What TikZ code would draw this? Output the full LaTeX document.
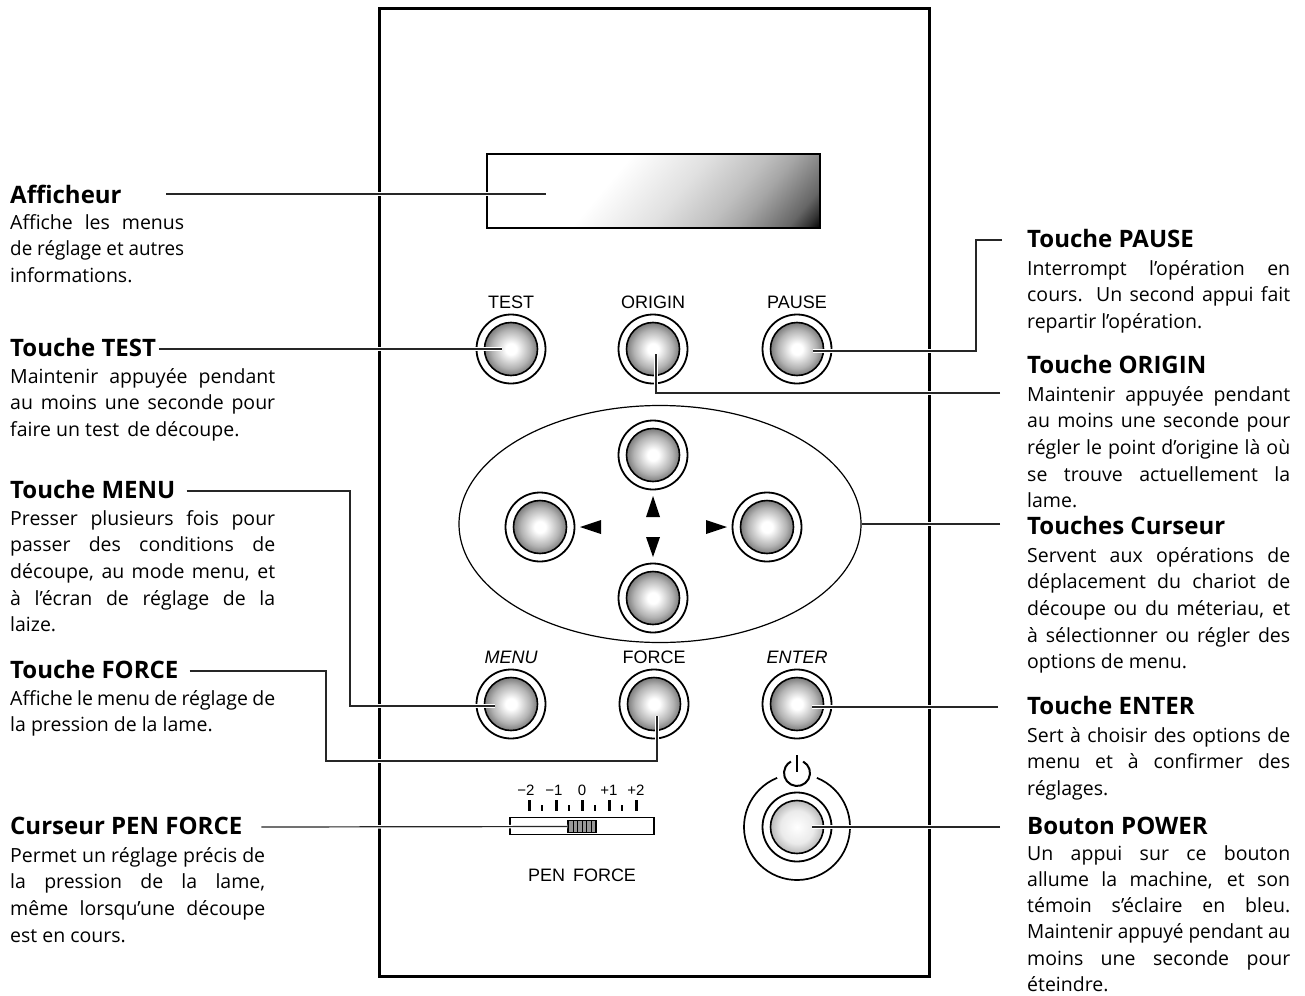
\documentclass[tikz,border=0pt]{standalone}
\usepackage{fontspec}
\usepackage{graphicx}
\setmainfont[Ligatures={NoCommon}]{Open Sans}
\newfontfamily\panelfont{Liberation Sans}
\usetikzlibrary{positioning, shapes.geometric}
\hyphenpenalty=10000
\exhyphenpenalty=10000
\tolerance=9999
\hbadness=10000
\hfuzz=20pt
\newcommand{\tightline}[1]{\resizebox{\linewidth}{\height}{#1}}

\pgfdeclareradialshading{btnshade}{\pgfpoint{0bp}{0bp}}{color(0bp)=(white); color(4bp)=(white); color(14bp)=(black!30); color(20bp)=(black!55); color(25bp)=(black!80); color(50bp)=(black!80)}
\pgfdeclareradialshading{pwrshade}{\pgfpoint{0bp}{0bp}}{color(0bp)=(white); color(12bp)=(black!8); color(20bp)=(black!30); color(25bp)=(black!62); color(50bp)=(black!62)}
\pgfdeclareverticalshading{lcdshade}{100bp}{color(0bp)=(white); color(45bp)=(white); color(52.6bp)=(black!12); color(58.1bp)=(black!25); color(60.9bp)=(black!35); color(62.9bp)=(black!45); color(65.8bp)=(black!60); color(67.6bp)=(black!80); color(69bp)=(black); color(100bp)=(black)}

\tikzset{
  ringbtn/.style={circle, draw, line width=1.8pt, inner sep=0pt, minimum size=69pt,
    path picture={\shadedraw[shading=#1, line width=1.6pt] (path picture bounding box.center) circle (26.5pt);}},
  ringbtn/.default=btnshade,
  leader/.style={draw=black!85, line width=1.2pt, preaction={draw=white, line width=3.6pt, line cap=square}},
  heading/.style={inner sep=0pt, anchor=base west, text height=14pt, text depth=0pt, font=\fontsize{24}{26}\selectfont\bfseries},
  desc/.style={inner sep=0pt, anchor=north west, text width=#1, align=justify,
    font=\fontsize{19.5}{26.6}\selectfont, execute at begin node={\rule{0pt}{16pt}}},
  paneltext/.style={inner sep=0pt, font=\panelfont\fontsize{18}{20}\selectfont},
  scaletext/.style={inner sep=0pt, anchor=base, font=\panelfont\fontsize{15}{16}\selectfont},
}

\begin{document}
\begin{tikzpicture}[x=1pt, y=-1pt]
  \useasboundingbox (0,0) rectangle (1305,995);
  % front panel and display
  \node[draw, line width=3pt, minimum width=550pt, minimum height=967pt, inner sep=0pt] (panel) at (654,492.5) {};
  \node[draw, line width=1.6pt, minimum width=333pt, minimum height=74pt, inner sep=0pt,
    path picture={\shade[shading=lcdshade, shading angle=-130] (path picture bounding box.center) ++(-200,-200) rectangle ++(400,400);}] (lcd) at (653.5,191) {};
  % cursor pad
  \node[draw, line width=1.2pt, ellipse, minimum width=402pt, minimum height=237pt, inner sep=0pt] (pad) at (660,524) {};
  % buttons
  \node[ringbtn] (btest) at (511,349) {};
  \node[ringbtn] (borigin) at (653,349) {};
  \node[ringbtn] (bpause) at (797,349) {};
  \node[ringbtn] (bup) at (653,455) {};
  \node[ringbtn] (bleft) at (540,527) {};
  \node[ringbtn] (bright) at (767,527) {};
  \node[ringbtn] (bdown) at (653,598) {};
  \node[ringbtn] (bmenu) at (511,704) {};
  \node[ringbtn] (bforce) at (654,704) {};
  \node[ringbtn] (benter) at (797,704) {};
  \node[ringbtn=pwrshade] (bpower) at (797,827) {};
  % cursor arrows
  \fill (653,496) -- (646,517) -- (660,517) -- cycle;
  \fill (653,557) -- (646,537) -- (660,537) -- cycle;
  \fill (580,527) -- (601,520) -- (601,534) -- cycle;
  \fill (727,527) -- (706,520) -- (706,534) -- cycle;
  % button captions
  \node[paneltext, above=5pt of btest] (ltest) {TEST};
  \node[paneltext, above=5pt of borigin] (lorigin) {ORIGIN};
  \node[paneltext, above=5pt of bpause] (lpause) {PAUSE};
  \node[paneltext, above=5pt of bmenu, font=\panelfont\itshape\fontsize{18}{20}\selectfont] (lmenu) {MENU};
  \node[paneltext, above=5pt of bforce] (lforce) {FORCE};
  \node[paneltext, above=5pt of benter, font=\panelfont\itshape\fontsize{18}{20}\selectfont] (lenter) {ENTER};
  % power ring and symbol
  \draw[line width=1.7pt] ([shift={(68:53pt)}]bpower.center) arc[start angle=68, end angle=-248, radius=53pt];
  \coordinate (pwricon) at (797,773);
  \draw[line width=2pt] ([shift={(62:13pt)}]pwricon) arc[start angle=62, end angle=-242, radius=13pt];
  \draw[line width=2pt] ([shift={(0,-18)}]pwricon) -- ([shift={(0,-1)}]pwricon);
  % pen force slider
  \node[draw, line width=1.6pt, minimum width=144pt, minimum height=17pt, inner sep=0pt] (bar) at (582,826) {};
  \node[draw, line width=1.2pt, fill=black!40, minimum width=28pt, minimum height=12pt, inner sep=0pt] (thumb) at (582,826.5) {};
  \draw[line width=1pt] (573,821) -- (573,832) (577.5,821) -- (577.5,832) (582,821) -- (582,832) (586.5,821) -- (586.5,832) (591,821) -- (591,832);
  \draw[line width=3pt] (529,800) -- (529,811) (556,800) -- (556,811) (582,800) -- (582,811) (609,800) -- (609,811) (636,800) -- (636,811);
  \draw[line width=2pt] (542,805) -- (542,811) (569,805) -- (569,811) (595,805) -- (595,811) (622,805) -- (622,811);
  \node[scaletext] (sa) at (526,795) {−2};
  \node[scaletext] (sb) at (554,795) {−1};
  \node[scaletext] (sc) at (582,795) {0};
  \node[scaletext] (sd) at (609,795) {+1};
  \node[scaletext] (se) at (636,795) {+2};
  \node[paneltext, below=33pt of bar] (lpen) {PEN\, FORCE};
  % left column
  \node[heading] (taff) at (10,203) {Afficheur};
  \node[desc=174pt] (daff) at (10,213) {Affiche les menus\linebreak \tightline{de réglage et autres}\linebreak informations.};
  \node[heading] (ttest) at (10,356) {Touche TEST};
  \node[desc=265pt] (dtest) at (10,367) {Maintenir appuyée pendant\linebreak au moins une seconde pour\linebreak faire un test\, de découpe.};
  \node[heading] (tmenu) at (10,498) {Touche MENU};
  \node[desc=265pt] (dmenu) at (10,509) {Presser plusieurs fois pour\linebreak passer des conditions de\linebreak découpe, au mode menu, et\linebreak à l’écran de réglage de la\linebreak laize.};
  \node[heading] (tforce) at (10,678) {Touche FORCE};
  \node[desc=265pt] (dforce) at (10,689) {Affiche le menu de réglage de\linebreak la pression de la lame.};
  \node[heading] (tpen) at (10,834) {Curseur PEN FORCE};
  \node[desc=255pt] (dpen) at (10,846) {Permet un réglage précis de\linebreak la pression de la lame,\linebreak même lorsqu’une découpe\linebreak est en cours.};
  % right column
  \node[heading] (tpause) at (1027,247) {Touche PAUSE};
  \node[desc=263pt] (dpause) at (1027,259) {Interrompt l’opération en\linebreak cours. Un second appui fait\linebreak repartir l’opération.};
  \node[heading] (torigin) at (1027,373) {Touche ORIGIN};
  \node[desc=263pt] (dorigin) at (1027,385) {Maintenir appuyée pendant\linebreak au moins une seconde pour\linebreak régler le point d’origine là où\linebreak se trouve actuellement la\linebreak lame.};
  \node[heading] (tcurs) at (1027,534) {Touches Curseur};
  \node[desc=263pt] (dcurs) at (1027,546) {Servent aux opérations de\linebreak déplacement du chariot de\linebreak découpe ou du méteriau, et\linebreak à sélectionner ou régler des\linebreak options de menu.};
  \node[heading] (tenter) at (1027,714) {Touche ENTER};
  \node[desc=263pt] (denter) at (1027,726) {Sert à choisir des options de\linebreak menu et à confirmer des\linebreak réglages.};
  \node[heading] (tpower) at (1027,834) {Bouton POWER};
  \node[desc=263pt, font=\fontsize{19.5}{26.2}\selectfont] (dpower) at (1027,844) {Un appui sur ce bouton\linebreak allume la machine, et son\linebreak témoin s’éclaire en bleu.\linebreak \tightline{Maintenir appuyé pendant au}\linebreak moins une seconde pour\linebreak éteindre.};
  % leader lines
  \coordinate (caff) at (166,194);
  \coordinate (corigin) at (1000,393);
  \coordinate (ccurs) at (1000,524);
  \draw[leader] (caff) -- ([shift={(-108,3)}]lcd.center);
  \draw[leader] ([xshift=3pt]ttest.east) -- ([xshift=-9pt]btest.center);
  \draw[leader] ([xshift=11pt]tmenu.east) -| ([shift={(-161,2)}]bmenu.center) -- ([shift={(-16,2)}]bmenu.center);
  \draw[leader] ([xshift=11pt]tforce.east) -| ([shift={(-328,57)}]bforce.center) -| ([shift={(3,12)}]bforce.center);
  \draw[leader] ([xshift=19pt]tpen.east) -- (thumb.west);
  \draw[leader] ([xshift=-25pt]tpause.west) -| ([shift={(179,2)}]bpause.center) -- ([shift={(16,2)}]bpause.center);
  \draw[leader] (corigin) -| ([shift={(3,5)}]borigin.center);
  \draw[leader] (ccurs) -- (pad.east);
  \draw[leader] ([xshift=-29pt]tenter.west) -- ([shift={(15,3)}]benter.center);
  \draw[leader] ([xshift=-27pt]tpower.west) -- ([xshift=15pt]bpower.center);
\end{tikzpicture}
\end{document}
